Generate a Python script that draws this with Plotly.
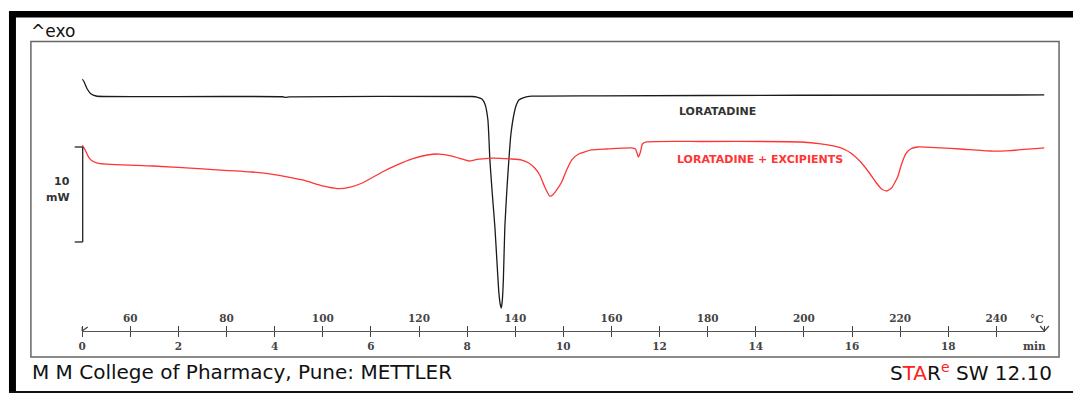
import plotly.graph_objects as go

# ---------------- data (time in min, heat flow in mW) ----------------
lor_time = [0.0, 0.041, 0.104, 0.186, 0.29, 0.435, 4.164, 4.226, 4.309, 8.10, 8.204, 8.307,
            8.370, 8.432, 8.473, 8.525, 8.577, 8.618, 8.660, 8.691, 8.711, 8.732, 8.753, 8.784,
            8.826, 8.867, 8.908, 8.97, 9.022, 9.074, 9.178, 9.343, 10.793, 14.937, 20.0]
lor_hf = [1.79, 1.47, 0.74, 0.21, 0.0, -0.05, -0.08, -0.14, -0.09, -0.05, -0.11, -0.32,
          -0.84, -2.53, -6.74, -10.42, -13.79, -17.26, -20.74, -22.0, -22.32, -21.47, -19.37, -13.79,
          -9.89, -6.74, -4.11, -2.0, -0.95, -0.42, -0.16, -0.02, 0.02, 0.08, 0.11]

mix_time = [0.0, 0.062, 0.145, 0.249, 0.373, 1.471, 2.507, 3.543, 4.06, 4.578, 4.993, 5.303,
            5.573, 5.821, 6.236, 6.547, 6.857, 7.168, 7.417, 7.686, 7.893, 8.038, 8.204, 8.515,
            8.929, 9.136, 9.281, 9.405, 9.509, 9.613, 9.716, 9.778, 9.861, 9.965, 10.068, 10.172,
            10.317, 10.586, 10.897, 11.415, 11.498, 11.56, 11.602, 11.643, 11.726, 12.865, 14.937,
            15.351, 15.766, 15.973, 16.18, 16.346, 16.491, 16.615, 16.719, 16.822, 16.947, 17.03,
            17.113, 17.216, 17.361, 17.838, 18.252, 18.874, 19.288, 20.0]
mix_hf = [-5.16, -5.68, -6.53, -6.95, -7.11, -7.37, -7.68, -8.0, -8.32, -8.84, -9.47, -9.74,
          -9.58, -9.16, -8.0, -7.26, -6.63, -6.21, -6.11, -6.32, -6.63, -6.84, -6.68, -6.53,
          -6.63, -6.74, -7.05, -7.58, -8.32, -9.58, -10.53, -10.42, -9.89, -9.05, -7.79, -6.74,
          -6.11, -5.68, -5.58, -5.47, -5.58, -6.42, -5.89, -5.05, -4.84, -4.79, -4.84,
          -5.05, -5.47, -6.0, -6.95, -8.0, -9.05, -9.79, -10.0, -9.68, -8.53, -7.16,
          -6.11, -5.58, -5.37, -5.47, -5.58, -5.79, -5.74, -5.47]

time_ticks = list(range(0, 20, 2))
time_labels = [str(t) for t in time_ticks]
temp_ticks = list(range(60, 250, 20))
temp_labels = [str(t) for t in temp_ticks]

series_names = ["LORATADINE", "LORATADINE + EXCIPIENTS"]

# ---------------- layout helpers (pixel -> paper) ----------------
W, H = 1073, 394
def X(px):
    return px / W
def Y(px):
    return 1 - px / H

fig = go.Figure()
fig.add_trace(go.Scatter(x=lor_time, y=lor_hf, mode="lines", name=series_names[0],
                         line=dict(color="#1a1a1a", width=1.3, shape="spline", smoothing=0.5)))
fig.add_trace(go.Scatter(x=mix_time, y=mix_hf, mode="lines", name=series_names[1],
                         line=dict(color="#ff3434", width=1.3, shape="spline", smoothing=0.5)))
# invisible trace to activate temperature axis
fig.add_trace(go.Scatter(x=[50, 250], y=[None, None], xaxis="x2", yaxis="y",
                         mode="lines", showlegend=False, hoverinfo="skip"))

axis_pos = Y(331)
tickfont = dict(family="DejaVu Serif", size=10.5, color="#444", weight="bold")
fig.update_layout(
    width=W, height=H, autosize=False,
    margin=dict(l=0, r=0, t=0, b=0),
    paper_bgcolor="white", plot_bgcolor="white",
    showlegend=False,
    xaxis=dict(domain=[X(78.5), X(1044.4)], range=[0, 20], anchor="free", position=axis_pos,
               showline=True, linecolor="#555", linewidth=1.3, showgrid=False, zeroline=False,
               ticks="outside", ticklen=5, tickwidth=1.2, tickcolor="#444",
               tickvals=time_ticks, ticktext=time_labels, tickfont=tickfont,
               minor=dict(ticks="outside", ticklen=5, tickwidth=1.2, tickcolor="#444",
                          tick0=1, dtick=2, showgrid=False)),
    xaxis2=dict(domain=[X(78.5), X(1044.4)], range=[50, 250], anchor="free", position=axis_pos,
                overlaying="x", side="top", showline=False, showgrid=False, zeroline=False,
                ticks="outside", ticklen=5, tickwidth=1.2, tickcolor="#444",
                tickvals=temp_ticks, ticktext=temp_labels, tickfont=tickfont,
                minor=dict(ticks="outside", ticklen=5, tickwidth=1.2, tickcolor="#444",
                           tick0=70, dtick=20, showgrid=False)),
    yaxis=dict(domain=[0, 1], range=[(96 - 394) / 9.5, 96 / 9.5], visible=False,
               showgrid=False, zeroline=False),
)

shapes = []
def rect(x0, y0, x1, y1, fill=None, line_color=None, lw=0):
    shapes.append(dict(type="rect", xref="paper", yref="paper",
                       x0=X(x0), x1=X(x1), y0=Y(y1), y1=Y(y0),
                       fillcolor=fill if fill else "rgba(0,0,0,0)",
                       line=dict(color=line_color if line_color else "rgba(0,0,0,0)", width=lw),
                       layer="above"))
def seg(x0, y0, x1, y1, color="#222", lw=1.3):
    shapes.append(dict(type="line", xref="paper", yref="paper",
                       x0=X(x0), y0=Y(y0), x1=X(x1), y1=Y(y1),
                       line=dict(color=color, width=lw), layer="above"))

# outer black borders
rect(5, 11, W, 17.5, fill="black")
rect(5, 11, 12, 393, fill="black")
rect(5, 391, W, 393, fill="#111")
# inner frame
rect(27, 41.5, 1059, 357, line_color="#666", lw=1.5)
# scale bar
seg(79, 147, 79, 242)
seg(71, 147, 79, 147)
seg(71, 242, 79, 242)
# axis start mark and end "Y" mark
seg(78.5, 327, 78.5, 331, color="#444", lw=1.2)
seg(78.5, 331, 84, 327, color="#444", lw=1.2)
seg(1040, 326, 1044.4, 331, color="#444", lw=1.2)
seg(1048.8, 326, 1044.4, 331, color="#444", lw=1.2)
fig.update_layout(shapes=shapes)

ann = []
def text(s, x, y, size, color="#111", family="DejaVu Sans", xanchor="left", weight="normal"):
    ann.append(dict(text=s, xref="paper", yref="paper", x=X(x), y=Y(y),
                    xanchor=xanchor, yanchor="middle", showarrow=False,
                    font=dict(family=family, size=size, color=color, weight=weight)))

text("^exo", 25, 31, 17)
text("10", 68, 182, 11, color="#333", xanchor="right", weight="bold")
text("mW", 68, 197, 11, color="#333", xanchor="right", weight="bold")
text(series_names[0], 716.5, 112, 11, color="#333", xanchor="center", weight="bold")
text(series_names[1], 758.5, 159, 11, color="#ff3434", xanchor="center", weight="bold")
text("°C", 1037, 319, 10.5, color="#444", family="DejaVu Serif", xanchor="center", weight="bold")
text("min", 1034, 346, 10.5, color="#444", family="DejaVu Serif", xanchor="center", weight="bold")
text("M M College of Pharmacy, Pune: METTLER", 26, 372, 20)
text("S<span style='color:#ff2020'>TA</span>R<sup><span style='color:#ff2020'>e</span></sup> SW 12.10",
     1054, 372, 20, xanchor="right")
fig.update_layout(annotations=ann)

fig.write_html("out.html")
